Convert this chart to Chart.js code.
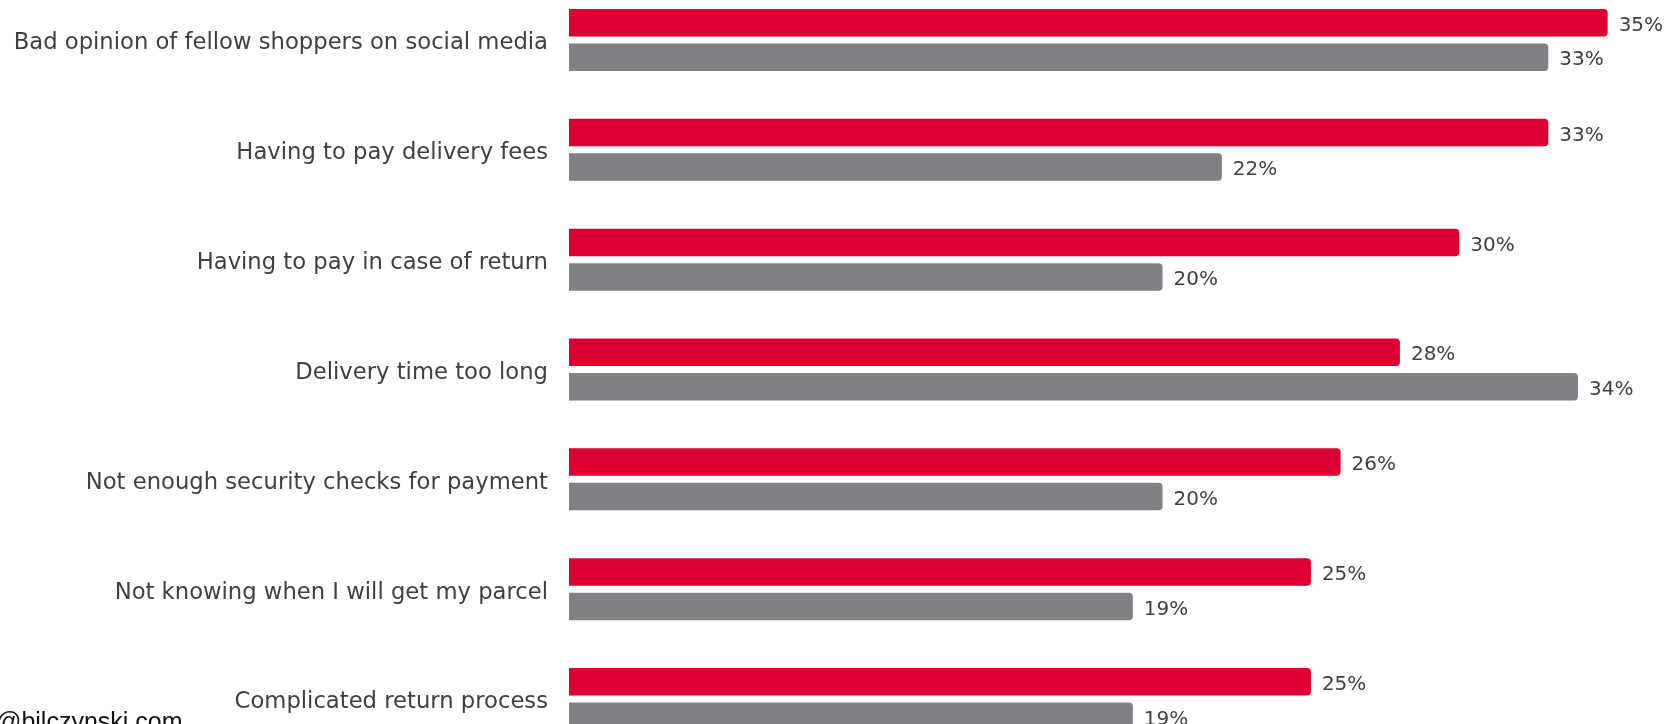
<!DOCTYPE html>
<html>
<head>
<meta charset="utf-8">
<script src="https://cdn.jsdelivr.net/npm/chart.js@4"></script>
<style>
  html, body { margin: 0; padding: 0; background: #fff; overflow: hidden; width: 1671px; height: 724px; }
  #wrap { position: absolute; left: 0; top: -15px; width: 1671px; height: 769px; }
  #credit { position: absolute; left: -4px; top: 707px; font-family: "Liberation Sans", Arial, sans-serif;
            font-size: 25px; color: #111; white-space: nowrap; }
</style>
</head>
<body>
<div id="wrap"><canvas id="chart"></canvas></div>
<div id="credit">@bilczynski.com</div>
<script>
const categories = [
  'Bad opinion of fellow shoppers on social media',
  'Having to pay delivery fees',
  'Having to pay in case of return',
  'Delivery time too long',
  'Not enough security checks for payment',
  'Not knowing when I will get my parcel',
  'Complicated return process'
];
const redValues = [35, 33, 30, 28, 26, 25, 25];
const greyValues = [33, 22, 20, 34, 20, 19, 19];

const labelFont = '"DejaVu Sans", "Open Sans", sans-serif';

// percent labels at the end of every bar
const valueLabels = {
  id: 'valueLabels',
  afterDatasetsDraw(chart) {
    const ctx = chart.ctx;
    ctx.save();
    ctx.font = '20px ' + labelFont;
    ctx.fillStyle = '#404040';
    ctx.textBaseline = 'middle';
    ctx.textAlign = 'left';
    chart.data.datasets.forEach((ds, i) => {
      chart.getDatasetMeta(i).data.forEach((bar, j) => {
        ctx.fillText(ds.data[j] + '%', bar.x + 11, bar.y + 3);
      });
    });
    ctx.restore();
  }
};

new Chart(document.getElementById('chart'), {
  type: 'bar',
  data: {
    labels: categories,
    datasets: [
      {
        data: redValues,
        backgroundColor: '#dc0032',
        borderRadius: 4,
        categoryPercentage: 0.628,
        barPercentage: 0.797
      },
      {
        data: greyValues,
        backgroundColor: '#808184',
        borderRadius: 4,
        categoryPercentage: 0.628,
        barPercentage: 0.797
      }
    ]
  },
  options: {
    indexAxis: 'y',
    responsive: true,
    maintainAspectRatio: false,
    animation: false,
    layout: { padding: { left: 0, right: 4, top: 0, bottom: 0 } },
    plugins: {
      legend: { display: false },
      tooltip: { enabled: false }
    },
    scales: {
      x: {
        display: false,
        min: 0,
        max: 37
      },
      y: {
        grid: { display: false, drawTicks: false },
        border: { display: false },
        ticks: {
          padding: 21,
          labelOffset: 3.5,
          color: '#3f3f3f',
          font: { family: labelFont, size: 22.7 }
        },
        afterFit(scale) {
          // fixed label column, and no extra top/bottom room from the tick padding
          scale.width = 569;
          scale.paddingTop = 0;
          scale.paddingBottom = 0;
        }
      }
    }
  },
  plugins: [valueLabels]
});
</script>
</body>
</html>
